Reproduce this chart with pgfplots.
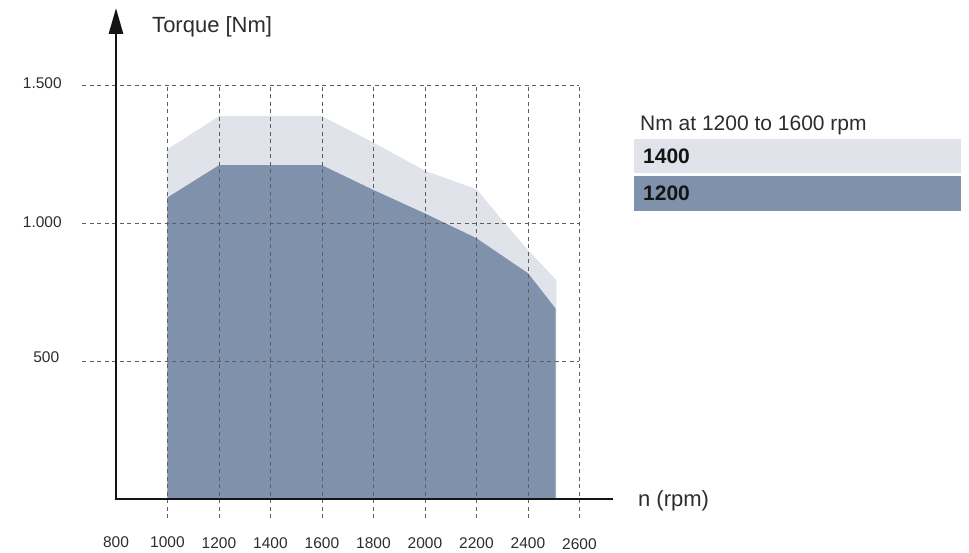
\documentclass[border=0pt]{standalone}
\usepackage{fontspec}
\setmainfont{Liberation Sans}
\usepackage{pgfplots}
\pgfplotsset{compat=1.18}
\usetikzlibrary{arrows.meta}
\definecolor{lightfill}{RGB}{224,227,234}
\definecolor{darkfill}{RGB}{128,146,171}
\definecolor{gridc}{RGB}{95,95,95}
\definecolor{txt}{RGB}{45,45,45}
\definecolor{axc}{RGB}{20,20,20}
\begin{document}
\begin{tikzpicture}
\useasboundingbox (0,0) rectangle (969pt,553pt);
\begin{axis}[at={(82pt,34.7pt)}, anchor=south west, scale only axis,
  width=530.95pt, height=510.3pt,
  xmin=668, xmax=2730, ymin=-70, ymax=1783,
  axis lines=none, clip=false]
% light area (max torque variant)
\addplot[fill=lightfill, draw=none] coordinates {
 (1000,0) (1000,1270) (1200,1390) (1400,1390) (1600,1390) (1800,1294)
 (2000,1192) (2200,1125) (2300,1013) (2400,904) (2510,795) (2510,0)} -- cycle;
% dark area
\addplot[fill=darkfill, draw=none] coordinates {
 (1000,0) (1000,1095) (1200,1212) (1400,1212) (1600,1212) (1800,1122)
 (2000,1037) (2200,947) (2400,820) (2507,692) (2507,0)} -- cycle;
% grid
\begin{scope}[gridc, line width=0.9pt, dash pattern=on 4pt off 3.5pt]
\draw (668,500) -- (2600,500);
\draw (668,1000) -- (2600,1000);
\draw (668,1500) -- (2600,1500);
\draw (1000,-70) -- (1000,1500);
\draw (1200,-70) -- (1200,1500);
\draw (1400,-70) -- (1400,1500);
\draw (1600,-70) -- (1600,1500);
\draw (1800,-70) -- (1800,1500);
\draw (2000,-70) -- (2000,1500);
\draw (2200,-70) -- (2200,1500);
\draw (2400,-70) -- (2400,1500);
\draw (2600,-70) -- (2600,1500);
\end{scope}
% axes
\draw[axc, line width=2.7pt] (795,0) -- (2730,0);
\draw[axc, line width=2.7pt, -{Triangle[length=26pt,width=14pt]}] (800,-4.9) -- (800,1783);
% tick labels
\begin{scope}[txt, font=\fontsize{15.5}{18}\selectfont, inner sep=0pt]
\node[anchor=center] at (800,-156) {800};
\node[anchor=center] at (1000,-158) {1000};
\node[anchor=center] at (1200,-159) {1200};
\node[anchor=center] at (1400,-160) {1400};
\node[anchor=center] at (1600,-160) {1600};
\node[anchor=center] at (1800,-161) {1800};
\node[anchor=center] at (2000,-161) {2000};
\node[anchor=center] at (2200,-162) {2200};
\node[anchor=center] at (2400,-162) {2400};
\node[anchor=center] at (2600,-163) {2600};
\node[anchor=east] at (590,1510) {1.500};
\node[anchor=east] at (590,1006) {1.000};
\node[anchor=east] at (580,516) {500};
\end{scope}
\node[txt, anchor=west, inner sep=0pt, font=\fontsize{22}{26}\selectfont] at (940,1714) {Torque [Nm]};
\node[txt, anchor=west, inner sep=0pt, font=\fontsize{22}{26}\selectfont] at (2827,-5) {n (rpm)};
\end{axis}
% legend
\fill[lightfill] (634pt,380.3pt) rectangle (961pt,414pt);
\fill[darkfill] (634pt,342.3pt) rectangle (961pt,377pt);
\node[txt, anchor=base west, inner sep=0pt, font=\fontsize{21}{25}\selectfont] at (640pt,422.3pt) {Nm at 1200 to 1600 rpm};
\node[axc, anchor=west, inner sep=0pt, font=\fontsize{21}{25}\selectfont\bfseries] at (643pt,397pt) {1400};
\node[axc, anchor=west, inner sep=0pt, font=\fontsize{21}{25}\selectfont\bfseries] at (643pt,360pt) {1200};
\end{tikzpicture}
\end{document}
